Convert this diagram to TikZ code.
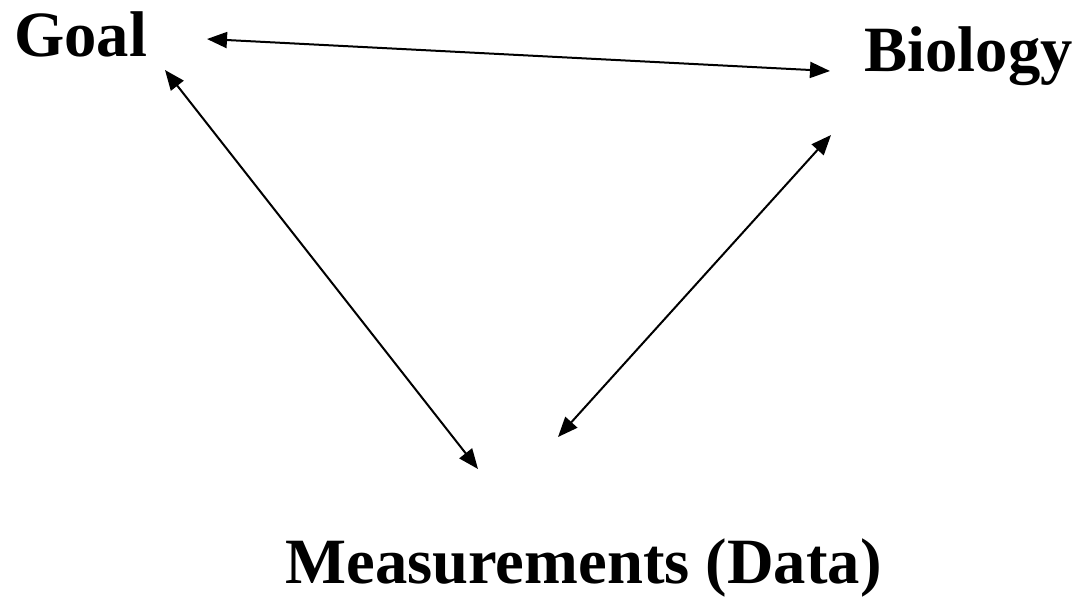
\documentclass[tikz,border=0pt]{standalone}
\usepackage{fontspec}
\setmainfont{Liberation Serif}
\usetikzlibrary{arrows.meta, positioning}

\begin{document}
\begin{tikzpicture}[
    x=0.5pt, y=-0.5pt,
    label/.style={anchor=base west, inner sep=0pt,
        font=\fontsize{32.3}{38}\selectfont\bfseries},
    link/.style={line width=1pt,
        arrows={Triangle[length=10pt, width=8pt]-Triangle[length=10pt, width=8pt]}}
]

% ============================================================
% Frame
% ============================================================
\useasboundingbox (0,0) rectangle (1078,601);

% ============================================================
% Labels
% ============================================================
\node[label] (goal)    at (14,56)  {Goal};
\node[label] (biology) at (864,71) {Biology};
\node[label] (data)    at (285,583) {Measurements (Data)};

% ============================================================
% Arrow ends
% ============================================================
\coordinate (goal-r) at (207,39);
\coordinate (goal-b) at (165,70);
\coordinate (bio-l)  at (830,71);
\coordinate (bio-b)  at (831,135);
\coordinate (data-l) at (478,469);
\coordinate (data-r) at (558,437);

% Links
\draw[link] (goal-r) -- (bio-l);
\draw[link] (goal-b) -- (data-l);
\draw[link] (bio-b) -- (data-r);

\end{tikzpicture}
\end{document}
